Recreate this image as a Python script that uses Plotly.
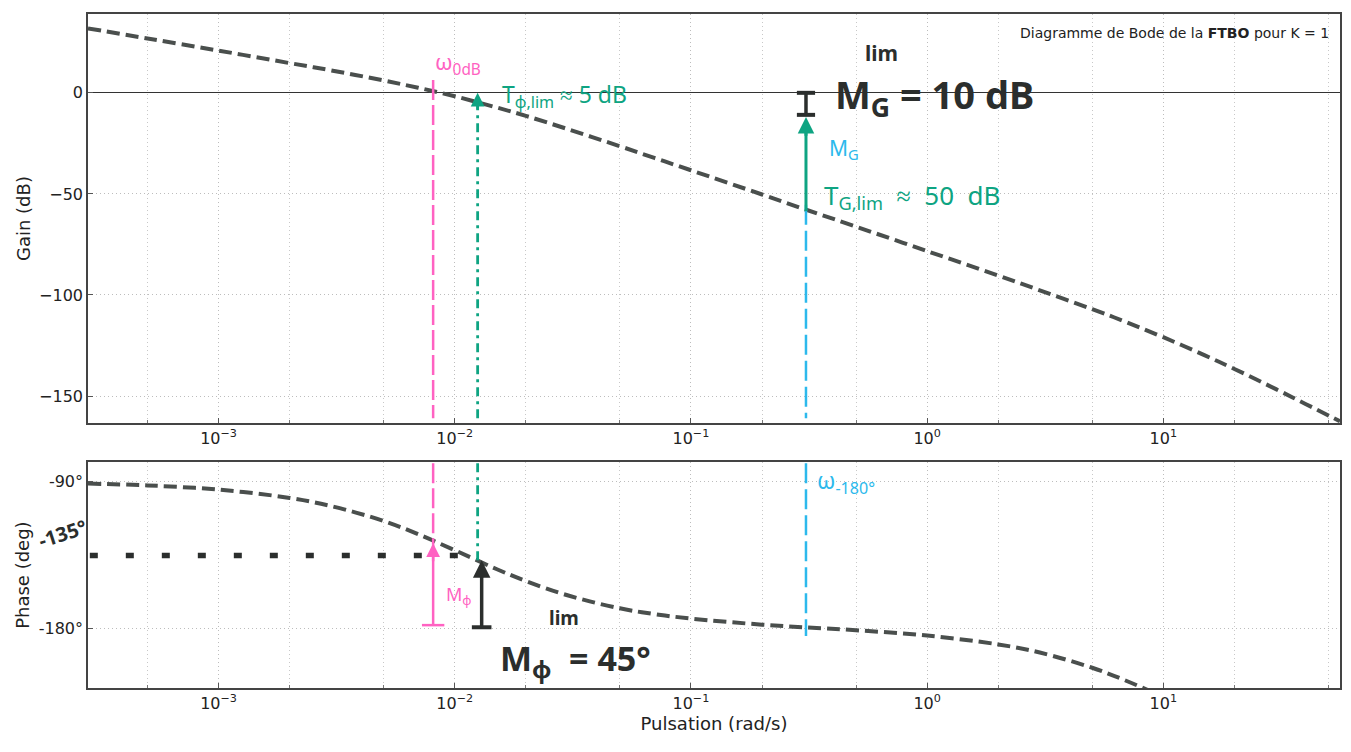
import math
import plotly.graph_objects as go

# ---------------- data ----------------
omega = [2.8e-4, 5e-4, 1e-3, 2e-3, 3e-3, 5e-3, 7e-3, 0.01, 0.015, 0.02, 0.03, 0.05, 0.07,
         0.1, 0.2, 0.3, 0.5, 1, 2, 3, 5, 7, 10, 15, 20, 30, 40, 56]
gain_db = [31.9, 26.9, 20.9, 14.7, 11.1, 6.1, 2.5, -1.7, -7.2, -11.4, -17.9, -26.4, -32.2,
           -38.3, -50.3, -57.4, -66.2, -78.3, -90.4, -97.7, -107.0, -113.5, -120.9, -129.9,
           -136.6, -146.6, -153.9, -162.5]
phase_deg = [-91.5, -92.6, -95.2, -100.3, -105.3, -114.4, -122.5, -132.3, -143.8, -151.2,
             -159.9, -167.9, -171.4, -174.2, -177.9, -179.5, -181.3, -184.6, -190.0, -195.0,
             -204.3, -212.4, -222.2, -233.7, -241.2, -249.9, -254.6, -258.9]

x_ticks = [1e-3, 1e-2, 1e-1, 1, 10]
x_tick_labels = ["10<sup>−3</sup>", "10<sup>−2</sup>", "10<sup>−1</sup>", "10<sup>0</sup>", "10<sup>1</sup>"]
gain_ticks = [0, -50, -100, -150]
gain_tick_labels = ["0", "−50", "−100", "−150"]
phase_ticks = [-90, -180]
phase_tick_labels = ["-90°", "-180°"]

# hand-drawn annotations
w_0dB = 0.0081          # pink
w_phi = 0.0125          # green (phase margin limit)
w_phi_bar = 0.0130      # black I-beam for phase margin
w_180 = 0.307           # cyan
phase_ref = -135.5      # dotted line at -135°
MG_lim_db = -10.9
TG_lim_db = -58.5

X_RANGE = [math.log10(2.8e-4), math.log10(56)]
G_RANGE = [-163.4, 39]
P_RANGE = [-216.7, -78.4]

PINK = "#ff62c2"
GREEN = "#0ea482"
CYAN = "#2cb9ec"
BLACK = "#2b2e2d"
CURVE = "#4a4f4d"
HAND = "Noto Sans"

fig = go.Figure()

# main curves
fig.add_trace(go.Scatter(x=omega, y=gain_db, mode="lines", xaxis="x", yaxis="y",
                         line=dict(color=CURVE, width=4, dash="13px,6px", shape="spline"),
                         showlegend=False, hoverinfo="skip"))
fig.add_trace(go.Scatter(x=omega, y=phase_deg, mode="lines", xaxis="x2", yaxis="y2",
                         line=dict(color=CURVE, width=4, dash="13px,6px", shape="spline"),
                         showlegend=False, hoverinfo="skip"))


def seg(xs, ys, ax, color, width, dash, mode="lines", marker=None):
    fig.add_trace(go.Scatter(x=xs, y=ys, mode=mode, xaxis="x" if ax == 1 else "x2",
                             yaxis="y" if ax == 1 else "y2",
                             line=dict(color=color, width=width, dash=dash),
                             marker=marker, showlegend=False, hoverinfo="skip"))


# pink omega_0dB line
seg([w_0dB, w_0dB], [6.4, -161], 1, PINK, 2.5, "20px,5px")
seg([w_0dB, w_0dB], [-79, -129], 2, PINK, 2.5, "20px,5px")
seg([w_0dB, w_0dB], [-129, -178.2], 2, PINK, 2.5, "solid")
seg([w_0dB], [-178.2], 2, PINK, 2.5, "solid", mode="markers",
    marker=dict(symbol="line-ew", size=16, line=dict(color=PINK, width=2.5)))

# green phase-margin-limit line
seg([w_phi, w_phi], [-161, -2], 1, GREEN, 2.8, "9px,5px,3px,5px")
seg([w_phi, w_phi], [-79, -138.4], 2, GREEN, 2.8, "9px,5px,3px,5px")

# black phase margin I-beam
seg([w_phi_bar, w_phi_bar], [-142, -179.5], 2, BLACK, 3.5, "solid")
seg([w_phi_bar], [-179.5], 2, BLACK, 3.5, "solid", mode="markers",
    marker=dict(symbol="line-ew", size=14, line=dict(color=BLACK, width=4)))

# black dotted -135 line
seg([2.85e-4, 0.0112], [phase_ref, phase_ref], 2, BLACK, 5.5, "8px,28px")

# cyan omega_-180 line
seg([w_180, w_180], [-55.4, -161], 1, CYAN, 2.5, "20px,6px")
seg([w_180, w_180], [-79, -184.9], 2, CYAN, 2.5, "20px,6px")

# green gain arrow and black gain margin I-beam
seg([w_180, w_180], [TG_lim_db, -14], 1, GREEN, 3, "solid")
seg([w_180, w_180], [0, MG_lim_db], 1, BLACK, 3.5, "solid", mode="lines+markers",
    marker=dict(symbol="line-ew", size=13, line=dict(color=BLACK, width=4)))

L = math.log10
annotations = [
    # arrow heads
    dict(x=L(w_phi), y=0, ax=L(w_phi), ay=-9, xref="x", yref="y", axref="x", ayref="y",
         showarrow=True, arrowhead=2, arrowsize=1.1, arrowwidth=2.5, arrowcolor=GREEN, text=""),
    dict(x=L(w_180), y=-11.9, ax=L(w_180), ay=-22, xref="x", yref="y", axref="x", ayref="y",
         showarrow=True, arrowhead=2, arrowsize=1.1, arrowwidth=3, arrowcolor=GREEN, text=""),
    dict(x=L(w_0dB), y=-128, ax=L(w_0dB), ay=-140, xref="x2", yref="y2", axref="x2", ayref="y2",
         showarrow=True, arrowhead=2, arrowsize=1.1, arrowwidth=2.5, arrowcolor=PINK, text=""),
    dict(x=L(w_phi_bar), y=-138.5, ax=L(w_phi_bar), ay=-150, xref="x2", yref="y2", axref="x2",
         ayref="y2", showarrow=True, arrowhead=2, arrowsize=1.0, arrowwidth=3.5,
         arrowcolor=BLACK, text=""),
    # texts
    dict(x=L(0.0081), y=15, xref="x", yref="y", showarrow=False, xanchor="left",
         text="ω<sub>0dB</sub>", font=dict(family=HAND, size=22, color=PINK)),
    dict(x=L(0.0155), y=-1.5, xref="x", yref="y", showarrow=False, xanchor="left",
         text="T<sub>φ,lim</sub> ≈ 5 dB", font=dict(family=HAND, size=23, color=GREEN)),
    dict(x=L(0.40), y=-2, xref="x", yref="y", showarrow=False, xanchor="left",
         text="M<sub>G</sub> = 10 dB", font=dict(family=HAND, size=38, color=BLACK, weight="bold")),
    dict(x=L(0.535), y=19.5, xref="x", yref="y", showarrow=False, xanchor="left",
         text="lim", font=dict(family=HAND, size=21, color=BLACK, weight="bold")),
    dict(x=L(0.375), y=-28, xref="x", yref="y", showarrow=False, xanchor="left",
         text="M<sub>G</sub>", font=dict(family=HAND, size=21, color=CYAN)),
    dict(x=L(0.36), y=-51, xref="x", yref="y", showarrow=False, xanchor="left",
         text="T<sub>G,lim</sub>  ≈  50  dB", font=dict(family=HAND, size=26, color=GREEN)),
    dict(x=L(0.335), y=-90, xref="x2", yref="y2", showarrow=False, xanchor="left",
         text="ω<sub>-180°</sub>", font=dict(family=HAND, size=23, color=CYAN)),
    dict(x=L(0.0090), y=-160, xref="x2", yref="y2", showarrow=False, xanchor="left",
         text="M<sub>φ</sub>", font=dict(family=HAND, size=18, color=PINK)),
    dict(x=L(0.0152), y=-199.5, xref="x2", yref="y2", showarrow=False, xanchor="left",
         text="M<sub>φ</sub>  = 45°", font=dict(family=HAND, size=34, color=BLACK, weight="bold")),
    dict(x=L(0.0245), y=-174, xref="x2", yref="y2", showarrow=False, xanchor="left",
         text="lim", font=dict(family=HAND, size=19, color=BLACK, weight="bold")),
    dict(x=-0.02, y=-122, xref="paper", yref="y2", showarrow=False, textangle=-18,
         xanchor="center", yanchor="middle",
         text="-135°", font=dict(family=HAND, size=20, color=BLACK, weight="bold")),
    # chart title (top right)
    dict(x=0.993, y=0.987, xref="paper", yref="paper", showarrow=False, xanchor="right",
         yanchor="top", text="Diagramme de Bode de la <b>FTBO</b> pour K = 1",
         font=dict(family="DejaVu Sans", size=14, color="#222")),
]

axis_font = dict(family="DejaVu Sans", size=16, color="#222")
title_font = dict(family="DejaVu Sans", size=18, color="#222")
grid = dict(showgrid=True, gridcolor="#bdbdbd", griddash="1px,3px", gridwidth=1)
frame = dict(showline=True, mirror=True, linecolor="#444", linewidth=1.5,
             ticks="inside", ticklen=5, tickcolor="#555", automargin=False)

xcommon = dict(type="log", range=X_RANGE, tickvals=x_ticks, ticktext=x_tick_labels,
               tickfont=axis_font, **grid, **frame,
               minor=dict(ticks="inside", ticklen=3, tickcolor="#777", showgrid=True,
                          gridcolor="#c8c8c8", griddash="1px,3px"))

# the page body has an 8px default margin: size the figure so that it fits the window
fig.update_layout(
    width=1343, height=744,
    margin=dict(l=80, r=11, t=6, b=64, autoexpand=False),
    plot_bgcolor="white", paper_bgcolor="white",
    xaxis=dict(anchor="y", domain=[0, 1], **xcommon),
    xaxis2=dict(anchor="y2", domain=[0, 1], **xcommon,
                title=dict(text="Pulsation (rad/s)", font=title_font, standoff=0)),
    yaxis=dict(domain=[0.393, 1], range=G_RANGE, tickvals=gain_ticks, ticktext=gain_tick_labels,
               tickfont=axis_font, zeroline=True, zerolinecolor="#333", zerolinewidth=1.3,
               title=dict(text="Gain (dB)", font=title_font, standoff=4),
               **grid, **frame),
    yaxis2=dict(domain=[0, 0.335], range=P_RANGE, tickvals=phase_ticks,
                ticktext=phase_tick_labels, tickfont=axis_font, zeroline=False,
                title=dict(text="Phase (deg)", font=title_font, standoff=4),
                **grid, **frame),
    annotations=annotations,
    showlegend=False,
)

fig.write_html("out.html")
